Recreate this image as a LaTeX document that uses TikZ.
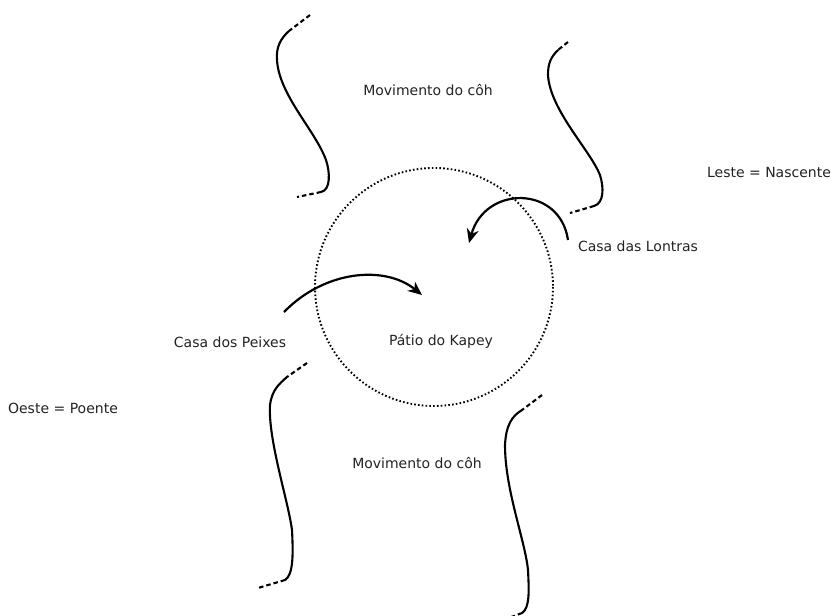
\documentclass[tikz,border=0pt]{standalone}
\usepackage{fontspec}
\setmainfont{DejaVu Sans}
\usepackage{tikz}
\usetikzlibrary{arrows.meta,positioning}
\definecolor{txtG}{RGB}{34,34,34}

\begin{document}
\begin{tikzpicture}[
  x=1pt, y=-1pt,
  lbl/.style={font=\fontsize{14}{16}\selectfont, text=txtG, inner sep=0pt},
  wave/.style={line width=2.1pt, line cap=round},
  wavedash/.style={line width=2.1pt, dash pattern=on 4.5pt off 3pt},
  ring/.style={line width=1.9pt, dash pattern=on 1.6pt off 2.2pt},
  turn/.style={line width=2.2pt, -{Stealth[length=14pt,width=12pt]}}
]
\useasboundingbox (0,0) rectangle (831,616);

% labels
\node[lbl] (mvtop) at (428,90) {Movimento do côh};
\node[lbl] (leste) at (769,172) {Leste = Nascente};
\node[lbl] (lontras) at (638,246) {Casa das Lontras};
\node[lbl] (patio) at (441,341) {Pátio do Kapey};
\node[lbl] (peixes) at (230,342) {Casa dos Peixes};
\node[lbl] (oeste) at (63,408) {Oeste = Poente};
\node[lbl] (mvbot) at (417,463) {Movimento do côh};

% patio
\draw[ring] (434,287) circle[radius=119];

% movement lines
\draw[wavedash] (310,15) -- (289,31);
\draw[wave] (289,31) .. controls (280,39) and (276,48) .. (277,60)
  .. controls (279,95) and (315,130) .. (326,160)
  .. controls (330,172) and (331,190) .. (321,192);
\draw[wavedash] (321,192) -- (297,197);

\draw[wavedash] (568,42) -- (558,50);
\draw[wave] (558,50) .. controls (551,57) and (548,63) .. (548,75)
  .. controls (550,110) and (590,150) .. (600,175)
  .. controls (604,188) and (604,203) .. (594,206);
\draw[wavedash] (594,206) -- (570,213);

\draw[wavedash] (307,363) -- (287,377);
\draw[wave] (287,377) .. controls (279,384) and (272,390) .. (270,405)
  .. controls (268,440) and (288,500) .. (292,530)
  .. controls (293,550) and (294,575) .. (285,580);
\draw[wavedash] (285,580) -- (258,588);

\draw[wavedash] (542,395) -- (522,410);
\draw[wave] (522,410) .. controls (512,416) and (506,425) .. (505,445)
  .. controls (505,490) and (525,540) .. (528,570)
  .. controls (529,590) and (530,608) .. (522,613);
\draw[wavedash] (522,613) -- (506,619);

% houses turning in
\coordinate (pxA) at (284,312);
\coordinate (pxB) at (422,295);
\coordinate (ltA) at (568,240);
\coordinate (ltB) at (469,243);
\draw[turn] (pxA) .. controls (325,270) and (385,265) .. (pxB);
\draw[turn] (ltA) .. controls (560,185) and (485,185) .. (ltB);

\end{tikzpicture}
\end{document}
